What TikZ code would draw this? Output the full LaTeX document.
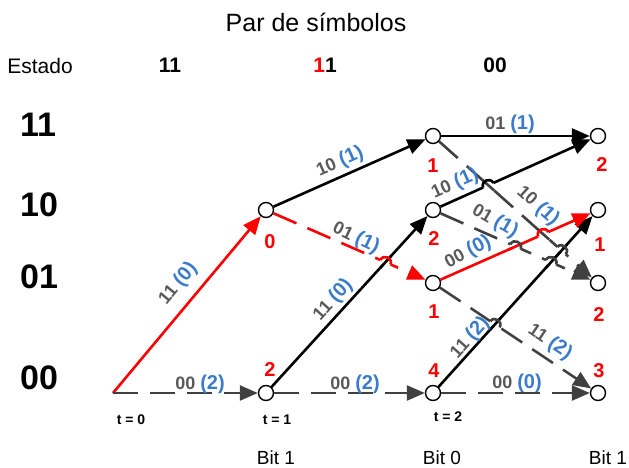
\documentclass[tikz,border=0pt]{standalone}
\usepackage{fontspec}
\setmainfont{Liberation Sans}
\usetikzlibrary{arrows.meta,calc}
\definecolor{tred}{HTML}{FF0000}
\definecolor{lgray}{HTML}{404040}
\definecolor{tgray}{HTML}{595959}
\definecolor{tblue}{HTML}{3A7CCB}
\newcommand\elab[2]{{\fontsize{18}{20}\selectfont\bfseries\color{tgray}#1 }{\fontsize{20}{22}\selectfont\bfseries\color{tblue}(#2)}}
\newcommand\jmp[6]{%
  \coordinate (J) at (intersection of #1.center--#2.center and #4.center--#5.center);
  \draw[white,line width=5pt] ($(J)!5.5pt!(#1)$) -- ($(J)!5.5pt!(#2)$);
  \draw[#6] ($(J)!8pt!(#4)$) -- ($(J)!8pt!(#5)$);
  \draw[#3] ($(J)!5.5pt!(#1)$) to[bend left=90,looseness=1.6] ($(J)!5.5pt!(#2)$);
}
\tikzset{
  st/.style={circle,draw=black,fill=white,line width=1.4pt,minimum size=15pt,inner sep=0pt},
  tip/.style={-{Triangle[length=18pt,width=15pt]}},
  ln/.style={line width=2.6pt},
  blk/.style={ln,black,tip},
  rd/.style={ln,tred,tip},
  rdd/.style={ln,tred,tip,dash pattern=on 25pt off 12pt},
  gd/.style={ln,lgray,tip,dash pattern=on 25pt off 12pt},
  elbl/.style={inner sep=0pt},
  rnum/.style={text=tred,font=\fontsize{20}{20}\selectfont\bfseries,inner sep=0pt},
  tlab/.style={font=\fontsize{14}{14}\selectfont\bfseries,inner sep=0pt},
  blab/.style={font=\fontsize{19}{19}\selectfont,inner sep=0pt},
  slab/.style={font=\fontsize{34}{34}\selectfont\bfseries,inner sep=0pt,anchor=base west},
  hlab/.style={font=\fontsize{21}{21}\selectfont\bfseries,inner sep=0pt,anchor=base},
}
\begin{document}
\begin{tikzpicture}[x=1pt,y=-1pt]
\useasboundingbox (0,0) rectangle (629,468);
% headers
\node[font=\fontsize{25}{25}\selectfont,inner sep=0pt,anchor=base] (title) at (316,32) {Par de símbolos};
\node[font=\fontsize{21}{21}\selectfont,inner sep=0pt,anchor=base] (estado) at (40,74) {Estado};
\node[hlab] (h1) at (170,73) {11};
\node[hlab] (h2) at (325,73) {\textcolor{tred}{1}1};
\node[hlab] (h3) at (495,73) {00};
% state labels
\node[slab] (s11) at (20,137) {11};
\node[slab] (s10) at (20,216) {10};
\node[slab] (s01) at (20,288) {01};
\node[slab] (s00) at (20,389) {00};
% trellis nodes
\coordinate (s0) at (113,393);
\node[st] (a10) at (266,210) {};
\node[st] (a00) at (266,393) {};
\node[st] (b11) at (433,136) {};
\node[st] (b10) at (433,210) {};
\node[st] (b01) at (433,283) {};
\node[st] (b00) at (433,393) {};
\node[st] (c11) at (598,136) {};
\node[st] (c10) at (598,210) {};
\node[st] (c01) at (598,283) {};
\node[st] (c00) at (598,393) {};
% edges
\draw[rd] (s0) -- (a10);
\draw[gd] (s0) -- (a00);
\draw[blk] (a10) -- (b11);
\draw[blk] (a00) -- (b10);
\draw[rdd] (a10) -- (b01);
\draw[gd] (a00) -- (b00);
\draw[blk] (b11) -- (c11);
\draw[gd] (b11) -- (c01);
\draw[gd] (b10) -- (c01);
\draw[blk] (b00) -- (c10);
\draw[gd] (b01) -- (c00);
\draw[gd] (b00) -- (c00);
\draw[rd] (b01) -- (c10);
\draw[blk] (b10) -- (c11);
% jumps
\jmp{a10}{b01}{ln,tred}{a00}{b10}{ln,black}
\jmp{b10}{c11}{ln,black}{b11}{c01}{ln,lgray}
\jmp{b01}{c10}{ln,tred}{b11}{c01}{ln,lgray}
\jmp{b10}{c01}{ln,lgray}{b01}{c10}{ln,tred}
\jmp{b11}{c01}{ln,lgray}{b00}{c10}{ln,black}
\jmp{b10}{c01}{ln,lgray}{b00}{c10}{ln,black}
\jmp{b01}{c00}{ln,lgray}{b00}{c10}{ln,black}
% edge labels
\node[elbl,rotate=50] (l1) at (178,284) {\elab{11}{0}};
\node[elbl] (l2) at (200,384) {\elab{00}{2}};
\node[elbl,rotate=24] (l3) at (340,162) {\elab{10}{1}};
\node[elbl,rotate=-26] (l4) at (356,238) {\elab{01}{1}};
\node[elbl,rotate=47.6] (l5) at (333,300) {\elab{11}{0}};
\node[elbl] (l6) at (355,384) {\elab{00}{2}};
\node[elbl] (l7) at (510,124) {\elab{01}{1}};
\node[elbl,rotate=24] (l8) at (455,184) {\elab{10}{1}};
\node[elbl,rotate=-42] (l9) at (538,206) {\elab{10}{1}};
\node[elbl,rotate=-30] (l10) at (495,221) {\elab{01}{1}};
\node[elbl,rotate=28] (l11) at (468,252) {\elab{00}{0}};
\node[elbl,rotate=48] (l12) at (470,338) {\elab{11}{2}};
\node[elbl,rotate=-34] (l13) at (550,342) {\elab{11}{2}};
\node[elbl] (l14) at (517,383) {\elab{00}{0}};
% red path metrics
\node[rnum] (m1) at (270,242) {0};
\node[rnum] (m2) at (270,370) {2};
\node[rnum] (m3) at (433,166) {1};
\node[rnum] (m4) at (434,239) {2};
\node[rnum] (m5) at (434,312) {1};
\node[rnum] (m6) at (434,371) {4};
\node[rnum] (m7) at (602,165) {2};
\node[rnum] (m8) at (600,245) {1};
\node[rnum] (m9) at (599,315) {2};
\node[rnum] (m10) at (599,371) {3};
% time and bit labels
\node[tlab] (t0) at (131,420) {t = 0};
\node[tlab] (t1) at (277,420) {t = 1};
\node[tlab] (t2) at (448,417) {t = 2};
\node[blab] (b1) at (276,458) {Bit 1};
\node[blab] (b2) at (442,458) {Bit 0};
\node[blab] (b3) at (608,458) {Bit 1};
\end{tikzpicture}
\end{document}
